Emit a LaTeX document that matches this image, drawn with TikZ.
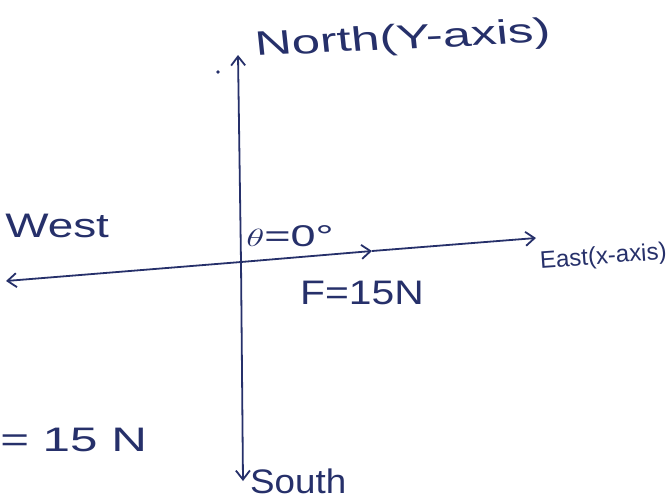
\documentclass[tikz,border=0pt]{standalone}
\usepackage{fontspec}
\setmainfont{Liberation Sans}
\usetikzlibrary{arrows.meta}
\definecolor{ink}{HTML}{26306A}
\begin{document}
\begin{tikzpicture}[x=1pt,y=-1pt,
  axis/.style={draw=ink,line width=1.8pt,-{Straight Barb[length=9pt,width=14pt,line width=1.8pt]}},
  lbl/.style={text=ink,font=\fontsize{34}{38}\selectfont,inner sep=0pt}]
\useasboundingbox[fill=white] (0,0) rectangle (670,499);
\coordinate (O) at (241,262);
\coordinate (N) at (238,55);
\coordinate (S) at (243,481);
\coordinate (W) at (6,281);
\coordinate (E) at (536,238);
\coordinate (F) at (372,251);
\draw[axis] (O) -- (N);
\draw[axis] (O) -- (S);
\draw[axis] (O) -- (W);
\draw[axis] (O) -- (F);
\draw[axis] (F) -- (E);
\fill[ink] (218,72) circle (1.8pt);
\node[lbl,anchor=west,xscale=1.5,rotate=4] (north) at (255,47) {North(Y-axis)};
\node[lbl,anchor=west,xscale=1.35] (west) at (5,226) {West};
\node[lbl,anchor=west,font=\fontsize{30}{34}\selectfont,xscale=1.5] (theta) at (246,236) {$\theta$=0°};
\node[lbl,anchor=west,xscale=1.2] (force) at (300,293) {F=15N};
\node[lbl,anchor=west,font=\fontsize{24}{28}\selectfont,rotate=4] (east) at (540,262) {East(x-axis)};
\node[lbl,anchor=west,xscale=1.45] (mag) at (0,440) {= 15 N};
\node[lbl,anchor=base west,xscale=1.08] (south) at (250,493) {South};
\end{tikzpicture}
\end{document}
